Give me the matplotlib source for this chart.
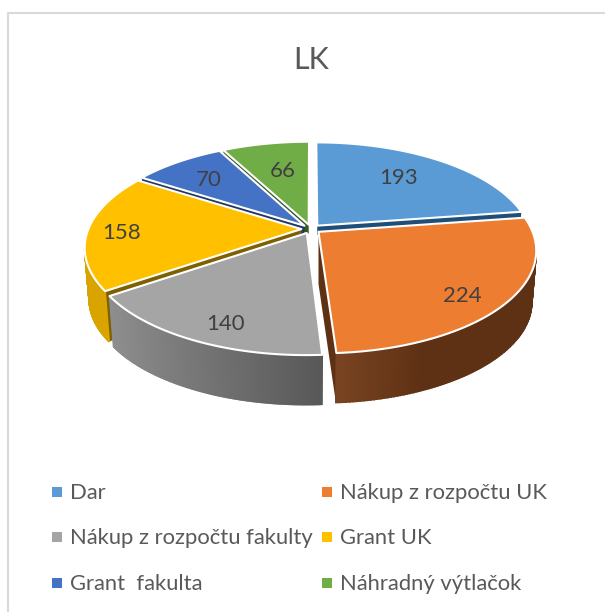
import numpy as np
import matplotlib
matplotlib.use('Agg')
import matplotlib.pyplot as plt
from matplotlib.colors import to_rgb

categories = ['Dar', 'Nákup z rozpočtu UK', 'Nákup z rozpočtu fakulty',
              'Grant UK', 'Grant  fakulta', 'Náhradný výtlačok']
values = [193, 224, 140, 158, 70, 66]
colors = ['#5b9bd5', '#ed7d31', '#a5a5a5', '#ffc000', '#4472c4', '#70ad47']
face_colors = ['#1f4e79', '#5f3114', '#525252', '#7f6000', '#203864', '#385723']
title = 'LK'

plt.rcParams['font.family'] = ['Lato', 'DejaVu Sans']

# pie geometry, in pixels of the picture
cx, cy = 311, 229
rx, ry = 213, 99
persp = 0.176
explode = 0.045
depth = 52
shrink = 0.98


def project(u, v):
    s = 1 / (1 - persp * v)
    return cx + rx * u * s, cy + ry * v * s


def lower(x, y):
    return cx + (x - cx) * shrink, cy + (y - cy) * shrink + depth


def wall_color(i, u):
    if i == 1:
        return [np.interp(u, [0.05, 0.4], [a, b]) for a, b in zip(to_rgb('#7a4522'), to_rgb('#5f3114'))]
    if i == 2:
        return [np.interp(u, [-0.82, 0.05], [a, b]) for a, b in zip(to_rgb('#8e8e8e'), to_rgb('#595959'))]
    return [c * 0.85 for c in to_rgb(colors[i])]


fig = plt.figure(figsize=(6.05, 6.12), dpi=100)
ax = fig.add_axes([0, 0, 1, 1])
ax.set_xlim(0, 605)
ax.set_ylim(612, 0)
ax.axis('off')

# chart frame
ax.plot([8, 8, 605], [612, 12.5, 12.5], color='#d9d9d9', lw=1.5)

ax.text(311, 60, title, fontsize=22, color='#595959', ha='center', va='center')

edges = np.concatenate([[0], np.cumsum(values)]) / sum(values) * 2 * np.pi
mids = (edges[:-1] + edges[1:]) / 2

# back to front
draw_order = [5, 4, 0, 3, 1, 2]
label_r = 0.7
label_nudge = [(-7, 0), (17, 16), (-7, 20), (-30, 3), (-4, 0), (6, 5)]

for i in draw_order:
    t0, t1 = edges[i], edges[i + 1]
    ou = explode * np.sin(mids[i])
    ov = -explode * np.cos(mids[i])
    t = np.linspace(t0, t1, 120)
    x, y = project(ou + np.sin(t), ov - np.cos(t))
    ax_, ay_ = project(ou, ov)

    # cut faces that look towards the viewer
    for a, sign in ((t0, -1), (t1, 1)):
        if sign * np.sin(a) > 0.01:
            ex, ey = project(ou + np.sin(a), ov - np.cos(a))
            bx, by = lower(ex, ey)
            apex_drop = depth if i == 1 else 9
            ax.fill([ax_, ex, bx, ax_], [ay_, ey, by, ay_ + apex_drop],
                    color=face_colors[i], lw=0, zorder=2)

    # outer wall, as thin strips so that it can shade
    bx, by = lower(x, y)
    for j in range(len(t) - 1):
        if np.cos(t[j]) < -0.2:
            ax.fill([x[j], x[j + 1], bx[j + 1], bx[j]],
                    [y[j], y[j + 1], by[j + 1], by[j]],
                    color=wall_color(i, np.sin(t[j])), lw=1.2, zorder=2)

    ax.fill(np.r_[ax_, x], np.r_[ay_, y], facecolor=colors[i], edgecolor='white',
            lw=1.5, joinstyle='round', zorder=2)

    lx, ly = project(ou + label_r * np.sin(mids[i]), ov - label_r * np.cos(mids[i]))
    ax.text(lx + label_nudge[i][0], ly + label_nudge[i][1], str(values[i]),
            fontsize=16, color='#404040', ha='center', va='center', zorder=5)

# legend
leg_x = [57, 327]
leg_y = [492, 537, 583]
for i, name in enumerate(categories):
    col = i % 2
    row = i // 2
    ax.scatter(leg_x[col], leg_y[row], marker='s', s=42, color=colors[i], lw=0)
    ax.text(leg_x[col] + 13, leg_y[row] + 1, name, fontsize=15.8, color='#595959',
            ha='left', va='center')

fig.savefig('out.png', dpi=100)
